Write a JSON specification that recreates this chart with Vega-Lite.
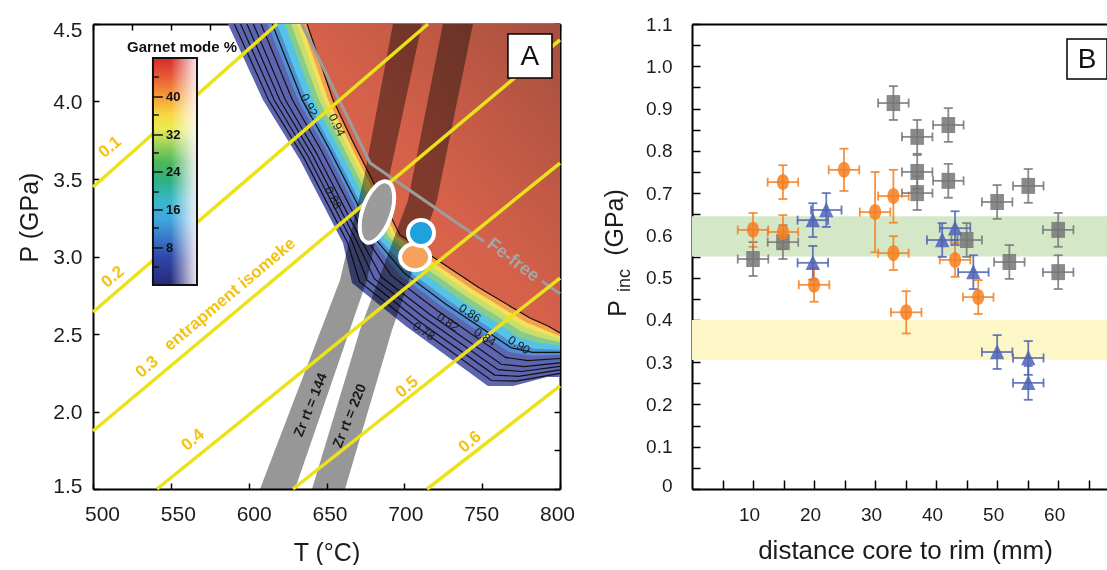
{
  "$schema": "https://vega.github.io/schema/vega-lite/v6.json",
  "background": "white",
  "padding": {"left": 17, "top": 15, "right": 0, "bottom": 0},
  "spacing": 27,
  "config": {
    "font": "Liberation Sans",
    "view": {"stroke": null},
    "axis": {"grid": false, "labelFont": "Liberation Sans", "titleFont": "Liberation Sans", "titleFontWeight": "normal", "labelColor": "#1c1c1c", "titleColor": "#1c1c1c", "domainColor": "#000", "tickColor": "#000", "labelFlush": false, "labelOverlap": false}
  },
  "datasets": {
    "outer": [
      {"i":1,"T":586.7,"P":4.5},{"i":2,"T":609.2,"P":4.01},{"i":3,"T":633.0,"P":3.623},{"i":4,"T":660.6,"P":3.087},{"i":5,"T":666.4,"P":2.829},{"i":6,"T":701.7,"P":2.545},{"i":7,"T":753.7,"P":2.165},{"i":8,"T":769.8,"P":2.165},{"i":9,"T":791.6,"P":2.223},{"i":10,"T":800,"P":2.223},{"i":11,"T":800,"P":4.5}
    ],
    "bands": [
      {"b":"lb","i":1,"T":612.1,"P":4.5},{"b":"lb","i":2,"T":631.7,"P":4.01},{"b":"lb","i":3,"T":649.7,"P":3.688},{"b":"lb","i":4,"T":678.9,"P":3.113},{"b":"lb","i":5,"T":696.3,"P":2.887},{"b":"lb","i":6,"T":724.5,"P":2.674},{"b":"lb","i":7,"T":767.2,"P":2.384},{"b":"lb","i":8,"T":781.1,"P":2.359},{"b":"lb","i":9,"T":800,"P":2.365},{"b":"lb","i":10,"T":800,"P":4.5},
      {"b":"cy","i":1,"T":618.2,"P":4.5},{"b":"cy","i":2,"T":637.1,"P":4.01},{"b":"cy","i":3,"T":653.7,"P":3.703},{"b":"cy","i":4,"T":683.3,"P":3.119},{"b":"cy","i":5,"T":703.4,"P":2.901},{"b":"cy","i":6,"T":730.0,"P":2.705},{"b":"cy","i":7,"T":770.4,"P":2.437},{"b":"cy","i":8,"T":783.8,"P":2.405},{"b":"cy","i":9,"T":800,"P":2.398},{"b":"cy","i":10,"T":800,"P":4.5},
      {"b":"gr","i":1,"T":623.3,"P":4.5},{"b":"gr","i":2,"T":641.6,"P":4.01},{"b":"gr","i":3,"T":657.0,"P":3.716},{"b":"gr","i":4,"T":687.0,"P":3.124},{"b":"gr","i":5,"T":709.4,"P":2.913},{"b":"gr","i":6,"T":734.5,"P":2.731},{"b":"gr","i":7,"T":773.1,"P":2.480},{"b":"gr","i":8,"T":786.0,"P":2.444},{"b":"gr","i":9,"T":800,"P":2.427},{"b":"gr","i":10,"T":800,"P":4.5},
      {"b":"yg","i":1,"T":627.3,"P":4.5},{"b":"yg","i":2,"T":645.2,"P":4.01},{"b":"yg","i":3,"T":659.7,"P":3.726},{"b":"yg","i":4,"T":689.9,"P":3.129},{"b":"yg","i":5,"T":714.2,"P":2.922},{"b":"yg","i":6,"T":738.2,"P":2.751},{"b":"yg","i":7,"T":775.3,"P":2.515},{"b":"yg","i":8,"T":787.8,"P":2.475},{"b":"yg","i":9,"T":800,"P":2.449},{"b":"yg","i":10,"T":800,"P":4.5},
      {"b":"ye","i":1,"T":630.9,"P":4.5},{"b":"ye","i":2,"T":648.4,"P":4.01},{"b":"ye","i":3,"T":662.1,"P":3.735},{"b":"ye","i":4,"T":692.4,"P":3.132},{"b":"ye","i":5,"T":718.3,"P":2.930},{"b":"ye","i":6,"T":741.4,"P":2.769},{"b":"ye","i":7,"T":777.2,"P":2.546},{"b":"ye","i":8,"T":789.4,"P":2.502},{"b":"ye","i":9,"T":800,"P":2.469},{"b":"ye","i":10,"T":800,"P":4.5},
      {"b":"or","i":1,"T":633.9,"P":4.5},{"b":"or","i":2,"T":651.1,"P":4.01},{"b":"or","i":3,"T":664.1,"P":3.743},{"b":"or","i":4,"T":694.6,"P":3.135},{"b":"or","i":5,"T":721.9,"P":2.937},{"b":"or","i":6,"T":744.1,"P":2.785},{"b":"or","i":7,"T":778.8,"P":2.572},{"b":"or","i":8,"T":790.7,"P":2.525},{"b":"or","i":9,"T":800,"P":2.486},{"b":"or","i":10,"T":800,"P":4.5},
      {"b":"rd","i":1,"T":637.5,"P":4.5},{"b":"rd","i":2,"T":654.2,"P":4.01},{"b":"rd","i":3,"T":666.4,"P":3.752},{"b":"rd","i":4,"T":697.2,"P":3.139},{"b":"rd","i":5,"T":726.1,"P":2.945},{"b":"rd","i":6,"T":747.3,"P":2.803},{"b":"rd","i":7,"T":780.7,"P":2.603},{"b":"rd","i":8,"T":792.3,"P":2.552},{"b":"rd","i":9,"T":800,"P":2.506},{"b":"rd","i":10,"T":800,"P":4.5}
    ],
    "cont": [
      {"c":1,"i":1,"T":590.8,"P":4.5},{"c":1,"i":2,"T":612.8,"P":4.01},{"c":1,"i":3,"T":635.7,"P":3.633},{"c":1,"i":4,"T":663.5,"P":3.091},{"c":1,"i":5,"T":671.2,"P":2.838},{"c":1,"i":6,"T":705.3,"P":2.566},{"c":1,"i":7,"T":755.9,"P":2.200},{"c":1,"i":8,"T":771.6,"P":2.196},{"c":1,"i":9,"T":800,"P":2.246},
      {"c":2,"i":1,"T":594.8,"P":4.5},{"c":2,"i":2,"T":616.4,"P":4.01},{"c":2,"i":3,"T":638.3,"P":3.644},{"c":2,"i":4,"T":666.5,"P":3.095},{"c":2,"i":5,"T":676.0,"P":2.848},{"c":2,"i":6,"T":709.0,"P":2.586},{"c":2,"i":7,"T":758.0,"P":2.235},{"c":2,"i":8,"T":773.4,"P":2.227},{"c":2,"i":9,"T":800,"P":2.268},
      {"c":3,"i":1,"T":598.9,"P":4.5},{"c":3,"i":2,"T":620.0,"P":4.01},{"c":3,"i":3,"T":641.0,"P":3.654},{"c":3,"i":4,"T":669.4,"P":3.099},{"c":3,"i":5,"T":680.7,"P":2.857},{"c":3,"i":6,"T":712.6,"P":2.607},{"c":3,"i":7,"T":760.2,"P":2.270},{"c":3,"i":8,"T":775.2,"P":2.258},{"c":3,"i":9,"T":800,"P":2.291},
      {"c":4,"i":1,"T":603.0,"P":4.5},{"c":4,"i":2,"T":623.6,"P":4.01},{"c":4,"i":3,"T":643.7,"P":3.664},{"c":4,"i":4,"T":672.3,"P":3.104},{"c":4,"i":5,"T":685.5,"P":2.866},{"c":4,"i":6,"T":716.3,"P":2.628},{"c":4,"i":7,"T":762.3,"P":2.305},{"c":4,"i":8,"T":777.0,"P":2.289},{"c":4,"i":9,"T":800,"P":2.314},
      {"c":5,"i":1,"T":608.0,"P":4.5},{"c":5,"i":2,"T":628.1,"P":4.01},{"c":5,"i":3,"T":647.0,"P":3.677},{"c":5,"i":4,"T":676.0,"P":3.109},{"c":5,"i":5,"T":691.5,"P":2.878},{"c":5,"i":6,"T":720.9,"P":2.653},{"c":5,"i":7,"T":765.0,"P":2.349},{"c":5,"i":8,"T":779.3,"P":2.328},{"c":5,"i":9,"T":800,"P":2.342},
      {"c":6,"i":1,"T":615.1,"P":4.5},{"c":6,"i":2,"T":634.4,"P":4.01},{"c":6,"i":3,"T":651.7,"P":3.695},{"c":6,"i":4,"T":681.1,"P":3.116},{"c":6,"i":5,"T":699.8,"P":2.894},{"c":6,"i":6,"T":727.2,"P":2.689},{"c":6,"i":7,"T":768.8,"P":2.410},{"c":6,"i":8,"T":782.4,"P":2.382},{"c":6,"i":9,"T":800,"P":2.381},
      {"c":7,"i":1,"T":637.5,"P":4.5},{"c":7,"i":2,"T":654.2,"P":4.01},{"c":7,"i":3,"T":666.4,"P":3.752},{"c":7,"i":4,"T":697.2,"P":3.139},{"c":7,"i":5,"T":726.1,"P":2.945},{"c":7,"i":6,"T":747.3,"P":2.803},{"c":7,"i":7,"T":780.7,"P":2.603},{"c":7,"i":8,"T":792.3,"P":2.552},{"c":7,"i":9,"T":800,"P":2.506}
    ],
    "strips": [
      {"s":1,"i":1,"T":692.7,"P":4.5},{"s":1,"i":2,"T":674.7,"P":3.539},{"s":1,"i":3,"T":658.7,"P":2.848},{"s":1,"i":4,"T":607.3,"P":1.5},{"s":1,"i":5,"T":629.8,"P":1.5},{"s":1,"i":6,"T":676.0,"P":2.848},{"s":1,"i":7,"T":690.8,"P":3.539},{"s":1,"i":8,"T":711.3,"P":4.5},
      {"s":2,"i":1,"T":724.8,"P":4.5},{"s":2,"i":2,"T":702.4,"P":3.365},{"s":2,"i":3,"T":671.5,"P":2.526},{"s":2,"i":4,"T":640.7,"P":1.5},{"s":2,"i":5,"T":661.9,"P":1.5},{"s":2,"i":6,"T":692.1,"P":2.526},{"s":2,"i":7,"T":721.0,"P":3.365},{"s":2,"i":8,"T":744.1,"P":4.5}
    ],
    "fe": [{"g":1,"i":1,"T":634.1,"P":4.5},{"g":1,"i":2,"T":678.0,"P":3.603},{"g":1,"i":3,"T":751.2,"P":3.097},{"g":2,"i":1,"T":788.4,"P":2.840},{"g":2,"i":2,"T":800,"P":2.76}],
    "iso": [
      {"k":"0.1","T":500,"P":3.448},{"k":"0.1","T":618.2,"P":4.5},
      {"k":"0.2","T":500,"P":2.642},{"k":"0.2","T":715.2,"P":4.5},
      {"k":"0.3","T":500,"P":1.874},{"k":"0.3","T":800,"P":4.397},
      {"k":"0.4","T":541.1,"P":1.5},{"k":"0.4","T":800,"P":3.603},
      {"k":"0.5","T":628.5,"P":1.5},{"k":"0.5","T":800,"P":2.861},
      {"k":"0.6","T":714.6,"P":1.5},{"k":"0.6","T":800,"P":2.165}
    ],
    "isolab": [
      {"s":"0.1","T":510.9,"P":3.706},{"s":"0.2","T":512.8,"P":2.868},{"s":"0.3","T":534.7,"P":2.287},{"s":"entrapment isomeke","T":588.0,"P":2.755},{"s":"0.4","T":564.2,"P":1.816},{"s":"0.5","T":701.7,"P":2.158},{"s":"0.6","T":742.2,"P":1.803}
    ],
    "clabUp": [{"s":"0.92","T":638.8,"P":3.977},{"s":"0.94","T":656.7,"P":3.848},{"s":"0.88","T":654.2,"P":3.377}],
    "clabLo": [{"s":"0.78","T":712.6,"P":2.519},{"s":"0.82","T":728.1,"P":2.577},{"s":"0.86","T":742.2,"P":2.635},{"s":"0.84","T":751.8,"P":2.481},{"s":"0.90","T":773.7,"P":2.429}],
    "zr": [{"s":"Zr rt = 144","T":640.0,"P":2.042},{"s":"Zr rt = 220","T":665.1,"P":1.971}],
    "cbmaj": [{"P":4.029},{"P":3.784},{"P":3.545},{"P":3.300},{"P":3.055}],
    "cbmin": [{"P":4.158},{"P":3.913},{"P":3.668},{"P":3.416},{"P":3.184},{"P":2.932}],
    "cblab": [{"v":"40","P":4.029},{"v":"32","P":3.784},{"v":"24","P":3.545},{"v":"16","P":3.300},{"v":"8","P":3.055}],
    "bandsB": [{"c":"g","lo":0.55,"hi":0.645},{"c":"y","lo":0.305,"hi":0.40}],
    "pts": [
      {"t":"s","d":33.0,"p":0.913,"dlo":30.5,"dhi":35.5,"plo":0.873,"phi":0.953},
      {"t":"s","d":36.9,"p":0.833,"dlo":34.4,"dhi":39.4,"plo":0.793,"phi":0.873},
      {"t":"s","d":36.9,"p":0.750,"dlo":34.4,"dhi":39.4,"plo":0.710,"phi":0.790},
      {"t":"s","d":36.9,"p":0.700,"dlo":34.4,"dhi":39.4,"plo":0.660,"phi":0.740},
      {"t":"s","d":42.0,"p":0.861,"dlo":39.5,"dhi":44.5,"plo":0.821,"phi":0.901},
      {"t":"s","d":42.0,"p":0.729,"dlo":39.5,"dhi":44.5,"plo":0.689,"phi":0.769},
      {"t":"s","d":50.0,"p":0.679,"dlo":47.5,"dhi":52.5,"plo":0.639,"phi":0.719},
      {"t":"s","d":55.1,"p":0.717,"dlo":52.6,"dhi":57.6,"plo":0.677,"phi":0.757},
      {"t":"s","d":60.0,"p":0.613,"dlo":57.5,"dhi":62.5,"plo":0.573,"phi":0.653},
      {"t":"s","d":60.0,"p":0.513,"dlo":57.5,"dhi":62.5,"plo":0.473,"phi":0.553},
      {"t":"s","d":52.0,"p":0.537,"dlo":49.5,"dhi":54.5,"plo":0.497,"phi":0.577},
      {"t":"s","d":45.0,"p":0.589,"dlo":42.5,"dhi":47.5,"plo":0.549,"phi":0.629},
      {"t":"s","d":14.9,"p":0.584,"dlo":12.4,"dhi":17.4,"plo":0.544,"phi":0.624},
      {"t":"s","d":10.0,"p":0.544,"dlo":7.5,"dhi":12.5,"plo":0.504,"phi":0.584},
      {"t":"o","d":14.9,"p":0.726,"dlo":12.4,"dhi":17.4,"plo":0.686,"phi":0.766},
      {"t":"o","d":24.9,"p":0.755,"dlo":22.4,"dhi":27.4,"plo":0.705,"phi":0.805},
      {"t":"o","d":33.0,"p":0.693,"dlo":30.5,"dhi":35.5,"plo":0.630,"phi":0.755},
      {"t":"o","d":30.0,"p":0.655,"dlo":27.5,"dhi":32.5,"plo":0.560,"phi":0.750},
      {"t":"o","d":33.0,"p":0.558,"dlo":30.5,"dhi":35.5,"plo":0.518,"phi":0.598},
      {"t":"o","d":10.0,"p":0.613,"dlo":7.5,"dhi":12.5,"plo":0.573,"phi":0.653},
      {"t":"o","d":14.9,"p":0.608,"dlo":12.4,"dhi":17.4,"plo":0.568,"phi":0.648},
      {"t":"o","d":20.0,"p":0.483,"dlo":17.5,"dhi":22.5,"plo":0.443,"phi":0.523},
      {"t":"o","d":43.1,"p":0.542,"dlo":40.6,"dhi":45.6,"plo":0.502,"phi":0.582},
      {"t":"o","d":46.9,"p":0.454,"dlo":44.4,"dhi":49.4,"plo":0.414,"phi":0.494},
      {"t":"o","d":35.1,"p":0.418,"dlo":32.6,"dhi":37.6,"plo":0.368,"phi":0.468},
      {"t":"t","d":19.8,"p":0.636,"dlo":17.3,"dhi":22.3,"plo":0.596,"phi":0.676},
      {"t":"t","d":22.0,"p":0.660,"dlo":19.5,"dhi":24.5,"plo":0.620,"phi":0.700},
      {"t":"t","d":19.8,"p":0.535,"dlo":17.3,"dhi":22.3,"plo":0.495,"phi":0.575},
      {"t":"t","d":43.1,"p":0.617,"dlo":40.6,"dhi":45.6,"plo":0.577,"phi":0.657},
      {"t":"t","d":41.0,"p":0.589,"dlo":38.5,"dhi":43.5,"plo":0.549,"phi":0.629},
      {"t":"t","d":46.1,"p":0.513,"dlo":43.6,"dhi":48.6,"plo":0.473,"phi":0.553},
      {"t":"t","d":50.0,"p":0.324,"dlo":47.5,"dhi":52.5,"plo":0.284,"phi":0.364},
      {"t":"t","d":55.1,"p":0.310,"dlo":52.6,"dhi":57.6,"plo":0.270,"phi":0.350},
      {"t":"t","d":55.1,"p":0.251,"dlo":52.6,"dhi":57.6,"plo":0.211,"phi":0.291}
    ]
  },
  "hconcat": [
    {
      "width": 467,
      "height": 465,
      "layer": [
        {
          "layer": [
            {
              "data": {"name": "outer"},
              "mark": {"type": "line", "fill": "#5d64b0", "strokeWidth": 0},
              "encoding": {
                "x": {"field": "T", "type": "quantitative", "scale": {"domain": [500, 800], "nice": false, "zero": false},
                  "axis": {"title": "T (°C)", "values": [500,525,550,575,600,625,650,675,700,725,750,775,800], "labelExpr": "datum.value % 50 == 0 ? datum.value : ''", "tickSize": -6, "tickWidth": 1.5, "domainWidth": 2, "labelPadding": 20, "labelFontSize": 21, "titleFontSize": 25, "titlePadding": 16,
                    "labelOffset": {"condition": [{"test": "datum.value == 500", "value": 9}, {"test": "datum.value == 550", "value": 7}, {"test": "datum.value == 600", "value": 5}, {"test": "datum.value == 650", "value": 3}, {"test": "datum.value == 700", "value": 1}, {"test": "datum.value == 800", "value": -3}], "value": -1}}},
                "y": {"field": "P", "type": "quantitative", "scale": {"domain": [1.5, 4.5], "nice": false, "zero": false},
                  "axis": {"title": "P (GPa)", "values": [1.5,1.75,2,2.25,2.5,2.75,3,3.25,3.5,3.75,4,4.25,4.5], "labelExpr": "(datum.value*2) % 1 == 0 ? format(datum.value, '.1f') : ''", "tickSize": -6, "tickWidth": 1.5, "domainWidth": 2, "labelPadding": 17, "labelFontSize": 21, "titleFontSize": 25, "titlePadding": 10, "titleY": 193,
                    "labelOffset": {"condition": [{"test": "datum.value == 4.5", "value": 6}, {"test": "datum.value == 1.5", "value": -3}], "value": 1}}},
                "order": {"field": "i", "type": "quantitative"}
              }
            },
            {"data": {"name": "bands"}, "transform": [{"filter": "datum.b == 'lb'"}], "mark": {"type": "line", "fill": "#4f8fd2", "strokeWidth": 0},
             "encoding": {"x": {"field": "T", "type": "quantitative"}, "y": {"field": "P", "type": "quantitative"}, "order": {"field": "i", "type": "quantitative"}}},
            {"data": {"name": "bands"}, "transform": [{"filter": "datum.b == 'cy'"}], "mark": {"type": "line", "fill": "#55c3e8", "strokeWidth": 0},
             "encoding": {"x": {"field": "T", "type": "quantitative"}, "y": {"field": "P", "type": "quantitative"}, "order": {"field": "i", "type": "quantitative"}}},
            {"data": {"name": "bands"}, "transform": [{"filter": "datum.b == 'gr'"}], "mark": {"type": "line", "fill": "#86cc8c", "strokeWidth": 0},
             "encoding": {"x": {"field": "T", "type": "quantitative"}, "y": {"field": "P", "type": "quantitative"}, "order": {"field": "i", "type": "quantitative"}}},
            {"data": {"name": "bands"}, "transform": [{"filter": "datum.b == 'yg'"}], "mark": {"type": "line", "fill": "#c8df6e", "strokeWidth": 0},
             "encoding": {"x": {"field": "T", "type": "quantitative"}, "y": {"field": "P", "type": "quantitative"}, "order": {"field": "i", "type": "quantitative"}}},
            {"data": {"name": "bands"}, "transform": [{"filter": "datum.b == 'ye'"}], "mark": {"type": "line", "fill": "#f3e15b", "strokeWidth": 0},
             "encoding": {"x": {"field": "T", "type": "quantitative"}, "y": {"field": "P", "type": "quantitative"}, "order": {"field": "i", "type": "quantitative"}}},
            {"data": {"name": "bands"}, "transform": [{"filter": "datum.b == 'or'"}], "mark": {"type": "line", "fill": "#f5a04f", "strokeWidth": 0},
             "encoding": {"x": {"field": "T", "type": "quantitative"}, "y": {"field": "P", "type": "quantitative"}, "order": {"field": "i", "type": "quantitative"}}},
            {"data": {"name": "bands"}, "transform": [{"filter": "datum.b == 'rd'"}],
             "mark": {"type": "line", "strokeWidth": 0, "fill": {"gradient": "linear", "x1": 0, "y1": 1, "x2": 1, "y2": 0, "stops": [{"offset": 0, "color": "#e8694d"}, {"offset": 0.5, "color": "#d5614a"}, {"offset": 1, "color": "#a44f3e"}]}},
             "encoding": {"x": {"field": "T", "type": "quantitative"}, "y": {"field": "P", "type": "quantitative"}, "order": {"field": "i", "type": "quantitative"}}},
            {"data": {"name": "cont"}, "mark": {"type": "line", "stroke": "#111", "strokeWidth": 1.2},
             "encoding": {"x": {"field": "T", "type": "quantitative"}, "y": {"field": "P", "type": "quantitative"}, "detail": {"field": "c", "type": "nominal"}, "order": {"field": "i", "type": "quantitative"}}},
            {"data": {"name": "strips"}, "mark": {"type": "line", "fill": "#979797", "strokeWidth": 0, "blend": "multiply"},
             "encoding": {"x": {"field": "T", "type": "quantitative"}, "y": {"field": "P", "type": "quantitative"}, "detail": {"field": "s", "type": "nominal"}, "order": {"field": "i", "type": "quantitative"}}},
            {"data": {"name": "fe"}, "mark": {"type": "line", "stroke": "#9c9c9c", "strokeWidth": 3.2},
             "encoding": {"x": {"field": "T", "type": "quantitative"}, "y": {"field": "P", "type": "quantitative"}, "detail": {"field": "g", "type": "nominal"}, "order": {"field": "i", "type": "quantitative"}}},
            {"data": {"name": "iso"}, "mark": {"type": "line", "stroke": "#ebe21c", "strokeWidth": 3.5},
             "encoding": {"x": {"field": "T", "type": "quantitative"}, "y": {"field": "P", "type": "quantitative"}, "detail": {"field": "k", "type": "nominal"}}},
            {"data": {"name": "isolab"}, "mark": {"type": "text", "angle": 320, "fontSize": 17, "fontWeight": "bold", "color": "#f5c211", "align": "center", "baseline": "middle"},
             "encoding": {"x": {"field": "T", "type": "quantitative"}, "y": {"field": "P", "type": "quantitative"}, "text": {"field": "s"}}},
            {"data": {"name": "clabUp"}, "mark": {"type": "text", "angle": 64, "fontSize": 12, "color": "#1a1a1a", "align": "center", "baseline": "middle"},
             "encoding": {"x": {"field": "T", "type": "quantitative"}, "y": {"field": "P", "type": "quantitative"}, "text": {"field": "s"}}},
            {"data": {"name": "clabLo"}, "mark": {"type": "text", "angle": 33, "fontSize": 12, "color": "#1a1a1a", "align": "center", "baseline": "middle"},
             "encoding": {"x": {"field": "T", "type": "quantitative"}, "y": {"field": "P", "type": "quantitative"}, "text": {"field": "s"}}},
            {"data": {"name": "zr"}, "mark": {"type": "text", "angle": 292, "fontSize": 14, "fontWeight": "bold", "color": "#1a1a1a", "align": "center", "baseline": "middle"},
             "encoding": {"x": {"field": "T", "type": "quantitative"}, "y": {"field": "P", "type": "quantitative"}, "text": {"field": "s"}}},
            {"data": {"values": [{"s": "Fe-free"}]}, "mark": {"type": "text", "angle": 37, "fontSize": 18, "fontWeight": "bold", "color": "#a6a6a6", "align": "center", "baseline": "middle"},
             "encoding": {"x": {"datum": 769.8, "type": "quantitative"}, "y": {"datum": 2.975, "type": "quantitative"}, "text": {"field": "s"}}},
            {"data": {"values": [{"s": "grey"}]}, "mark": {"type": "point", "filled": true, "opacity": 1, "fill": "#9b9b9b", "stroke": "white", "strokeWidth": 4, "size": 4096, "angle": 19,
               "shape": "M0,-1C0.25,-1 0.453,-0.552 0.453,0C0.453,0.552 0.25,1 0,1C-0.25,1 -0.453,0.552 -0.453,0C-0.453,-0.552 -0.25,-1 0,-1Z"},
             "encoding": {"x": {"datum": 682.4, "type": "quantitative"}, "y": {"datum": 3.287, "type": "quantitative"}}},
            {"data": {"values": [{"s": "orange"}]}, "mark": {"type": "point", "filled": true, "opacity": 1, "fill": "#f6a25c", "stroke": "white", "strokeWidth": 4, "size": 900,
               "shape": "M0,-0.88C0.552,-0.88 1,-0.486 1,0C1,0.486 0.552,0.88 0,0.88C-0.552,0.88 -1,0.486 -1,0C-1,-0.486 -0.552,-0.88 0,-0.88Z"},
             "encoding": {"x": {"datum": 706.9, "type": "quantitative"}, "y": {"datum": 2.997, "type": "quantitative"}}},
            {"data": {"values": [{"s": "blue"}]}, "mark": {"type": "point", "filled": true, "opacity": 1, "fill": "#1fa1db", "stroke": "white", "strokeWidth": 4, "size": 676, "shape": "circle"},
             "encoding": {"x": {"datum": 710.7, "type": "quantitative"}, "y": {"datum": 3.152, "type": "quantitative"}}},
            {"data": {"values": [{"s": "A"}]}, "mark": {"type": "point", "filled": true, "opacity": 1, "fill": "white", "stroke": "black", "strokeWidth": 1.5, "size": 1936, "shape": "square"},
             "encoding": {"x": {"datum": 780.7, "type": "quantitative"}, "y": {"datum": 4.294, "type": "quantitative"}}},
            {"data": {"values": [{"s": "A"}]}, "mark": {"type": "text", "fontSize": 28, "color": "#111", "align": "center", "baseline": "middle", "dy": 1},
             "encoding": {"x": {"datum": 780.7, "type": "quantitative"}, "y": {"datum": 4.294, "type": "quantitative"}, "text": {"field": "s"}}},
            {"data": {"values": [{"s": "cbar"}]},
             "mark": {"type": "rect", "fill": {"gradient": "linear", "x1": 0, "y1": 0, "x2": 0, "y2": 1, "stops": [
               {"offset": 0, "color": "#d42a2f"}, {"offset": 0.083, "color": "#e85a35"}, {"offset": 0.167, "color": "#f59a35"}, {"offset": 0.25, "color": "#f8d840"}, {"offset": 0.3125, "color": "#e8ec50"}, {"offset": 0.375, "color": "#a4d45a"}, {"offset": 0.458, "color": "#4cb85a"}, {"offset": 0.542, "color": "#2fb082"}, {"offset": 0.625, "color": "#38b8c8"}, {"offset": 0.708, "color": "#40a8e0"}, {"offset": 0.792, "color": "#3a78c8"}, {"offset": 0.875, "color": "#3048a8"}, {"offset": 1, "color": "#282878"}]}},
             "encoding": {"x": {"datum": 538.5, "type": "quantitative"}, "x2": {"datum": 566.8}, "y": {"datum": 2.816, "type": "quantitative"}, "y2": {"datum": 4.281}}},
            {"data": {"values": [{"s": "cbar"}]},
             "mark": {"type": "rect", "stroke": "#111", "strokeWidth": 2, "fill": {"gradient": "linear", "x1": 0, "y1": 0, "x2": 1, "y2": 0, "stops": [{"offset": 0, "color": "rgba(255,255,255,0)"}, {"offset": 0.4, "color": "rgba(255,255,255,0)"}, {"offset": 1, "color": "rgba(255,245,250,0.92)"}]}},
             "encoding": {"x": {"datum": 538.5, "type": "quantitative"}, "x2": {"datum": 566.8}, "y": {"datum": 2.816, "type": "quantitative"}, "y2": {"datum": 4.281}}},
            {"data": {"name": "cbmaj"}, "mark": {"type": "rule", "stroke": "#111", "strokeWidth": 1.5},
             "encoding": {"x": {"datum": 538.5, "type": "quantitative"}, "x2": {"datum": 544.9}, "y": {"field": "P", "type": "quantitative"}}},
            {"data": {"name": "cbmin"}, "mark": {"type": "rule", "stroke": "#111", "strokeWidth": 1.5},
             "encoding": {"x": {"datum": 538.5, "type": "quantitative"}, "x2": {"datum": 542.3}, "y": {"field": "P", "type": "quantitative"}}},
            {"data": {"name": "cblab"}, "mark": {"type": "text", "fontSize": 13, "fontWeight": "bold", "color": "#111", "align": "left", "baseline": "middle"},
             "encoding": {"x": {"datum": 546.9, "type": "quantitative"}, "y": {"field": "P", "type": "quantitative"}, "text": {"field": "v"}}},
            {"data": {"values": [{"s": "Garnet mode %"}]}, "mark": {"type": "text", "fontSize": 15, "fontWeight": "bold", "color": "#111", "align": "center", "baseline": "middle"},
             "encoding": {"x": {"datum": 557.2, "type": "quantitative"}, "y": {"datum": 4.352, "type": "quantitative"}, "text": {"field": "s"}}}
          ]
        },
        {
          "data": {"values": [{"T": 500, "P": 1.5}]},
          "mark": {"type": "point", "opacity": 0},
          "encoding": {
            "x": {"field": "T", "type": "quantitative", "axis": {"orient": "top", "values": [500,525,550,575,600,625,650,675,700,725,750,775,800], "labels": false, "tickSize": -6, "tickWidth": 1.5, "domainWidth": 2, "title": null}},
            "y": {"field": "P", "type": "quantitative", "axis": {"orient": "right", "values": [1.5,1.75,2,2.25,2.5,2.75,3,3.25,3.5,3.75,4,4.25,4.5], "labels": false, "tickSize": -6, "tickWidth": 1.5, "domainWidth": 2, "title": null}}
          }
        }
      ],
      "resolve": {"axis": {"x": "independent", "y": "independent"}}
    },
    {
      "width": 415,
      "height": 465,
      "layer": [
        {
          "layer": [
            {"data": {"name": "bandsB"}, "transform": [{"filter": "datum.c == 'g'"}], "mark": {"type": "rect", "fill": "#d4e8c8"},
             "encoding": {"y": {"field": "lo", "type": "quantitative", "axis": null}, "y2": {"field": "hi"}}},
            {"data": {"name": "bandsB"}, "transform": [{"filter": "datum.c == 'y'"}], "mark": {"type": "rect", "fill": "#fdf6c6"},
             "encoding": {"y": {"field": "lo", "type": "quantitative", "axis": null}, "y2": {"field": "hi"}}},
            {"data": {"name": "pts"}, "mark": {"type": "errorbar", "ticks": true, "size": 9, "thickness": 1.8, "opacity": 0.85},
             "encoding": {"x": {"field": "dlo", "type": "quantitative", "axis": null}, "x2": {"field": "dhi"}, "y": {"field": "p", "type": "quantitative", "axis": null},
               "color": {"field": "t", "type": "nominal", "legend": null}}},
            {"data": {"name": "pts"}, "mark": {"type": "errorbar", "ticks": true, "size": 9, "thickness": 1.8, "opacity": 0.85},
             "encoding": {"y": {"field": "plo", "type": "quantitative", "axis": null}, "y2": {"field": "phi"}, "x": {"field": "d", "type": "quantitative", "axis": null},
               "color": {"field": "t", "type": "nominal", "legend": null}}},
            {"data": {"name": "pts"}, "mark": {"type": "point", "filled": true, "size": 256, "opacity": 0.85, "strokeWidth": 0},
             "encoding": {
               "x": {"field": "d", "type": "quantitative", "scale": {"domain": [0, 68], "nice": false, "zero": false}, "axis": null},
               "y": {"field": "p", "type": "quantitative", "scale": {"domain": [0, 1.1], "nice": false}, "axis": null},
               "shape": {"field": "t", "type": "nominal", "scale": {"domain": ["s", "o", "t"], "range": ["M-0.85,-1H0.85V1H-0.85Z", "M0,-1C0.42,-1 0.76,-0.552 0.76,0C0.76,0.552 0.42,1 0,1C-0.42,1 -0.76,0.552 -0.76,0C-0.76,-0.552 -0.42,-1 0,-1Z", "M0,-1L0.9,0.9L-0.9,0.9Z"]}, "legend": null},
               "color": {"field": "t", "type": "nominal", "scale": {"domain": ["s", "o", "t"], "range": ["#767676", "#f47f20", "#4f63b5"]}, "legend": null}
             }},
            {"data": {"values": [{"s": "B"}]}, "mark": {"type": "point", "filled": true, "opacity": 1, "fill": "white", "stroke": "black", "strokeWidth": 1.5, "size": 1600, "shape": "square", "clip": false},
             "encoding": {"x": {"datum": 64.72, "type": "quantitative", "axis": null}, "y": {"datum": 1.017, "type": "quantitative", "axis": null}}},
            {"data": {"values": [{"s": "B"}]}, "mark": {"type": "text", "fontSize": 28, "color": "#111", "align": "center", "baseline": "middle", "dy": 1},
             "encoding": {"x": {"datum": 64.72, "type": "quantitative", "axis": null}, "y": {"datum": 1.017, "type": "quantitative", "axis": null}, "text": {"field": "s"}}}
          ]
        },
        {
          "data": {"values": [{"d": 0, "p": 0}]},
          "mark": {"type": "point", "opacity": 0},
          "encoding": {
            "x": {"field": "d", "type": "quantitative",
              "axis": {"orient": "bottom", "title": "distance core to rim (mm)", "values": [5,10,15,20,25,30,35,40,45,50,55,60,65], "labelExpr": "datum.value % 10 == 0 ? datum.value : ''", "tickSize": -9, "tickWidth": 1.5, "domainWidth": 2, "labelPadding": 25, "labelFontSize": 19, "labelOffset": -4, "titleFontSize": 26, "titlePadding": 13, "titleX": 213}},
            "y": {"field": "p", "type": "quantitative",
              "axis": {"orient": "left", "title": "P", "values": [0,0.05,0.1,0.15,0.2,0.25,0.3,0.35,0.4,0.45,0.5,0.55,0.6,0.65,0.7,0.75,0.8,0.85,0.9,0.95,1,1.05,1.1], "labelExpr": "round(datum.value*20) % 2 == 0 ? (datum.value == 0 ? '0' : format(datum.value, '.1f')) : ''", "tickSize": -8, "tickWidth": 1.5, "domainWidth": 2, "labelPadding": 28, "labelFontSize": 19, "titleFontSize": 25, "titleX": -67, "titleY": 284, "titleBaseline": "alphabetic", "titleAlign": "center",
                "labelOffset": {"condition": {"test": "datum.value == 0", "value": -4}, "value": 0}}}
          }
        },
        {
          "data": {"values": [{"d": 0, "p": 0}]},
          "mark": {"type": "point", "opacity": 0},
          "encoding": {
            "x": {"field": "d", "type": "quantitative", "axis": {"orient": "top", "labels": false, "ticks": false, "domainWidth": 2, "title": null}},
            "y": {"field": "p", "type": "quantitative", "axis": {"orient": "left", "labels": false, "ticks": false, "domain": false, "title": "inc", "titleFontSize": 18, "titleX": -63, "titleY": 256, "titleBaseline": "alphabetic", "titleAlign": "center"}}
          }
        },
        {
          "data": {"values": [{"d": 0, "p": 0}]},
          "mark": {"type": "point", "opacity": 0},
          "encoding": {
            "x": {"field": "d", "type": "quantitative", "axis": null},
            "y": {"field": "p", "type": "quantitative", "axis": {"orient": "left", "labels": false, "ticks": false, "domain": false, "title": "(GPa)", "titleFontSize": 25, "titleX": -70, "titleY": 198, "titleBaseline": "alphabetic", "titleAlign": "center"}}
          }
        }
      ],
      "resolve": {"axis": {"x": "independent", "y": "independent"}}
    }
  ]
}
